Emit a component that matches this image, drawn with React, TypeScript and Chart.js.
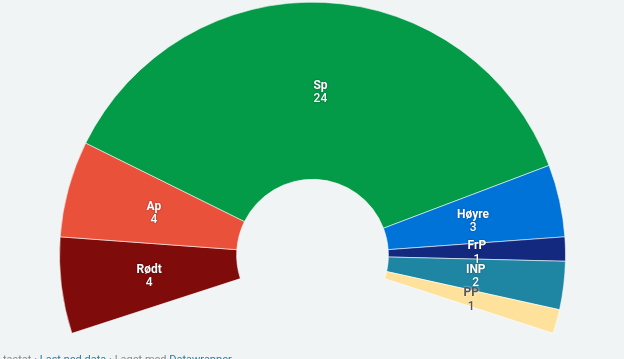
import React, { useEffect, useRef } from "react";
import { Chart, registerables } from "chart.js";

Chart.register(...registerables);

const parties = ["Rødt", "Ap", "Sp", "Høyre", "FrP", "INP", "PP"];
const seats = [4, 4, 24, 3, 1, 2, 1];
const colors = ["#800b0b", "#e9513a", "#039a48", "#0073d9", "#13297f", "#1e86a3", "#fee29b"];
const labelColors = ["#fff", "#fff", "#fff", "#fff", "#fff", "#fff", "#555"];

const labelPlugin = {
  id: "arcLabels",
  afterDatasetsDraw(chart: any) {
    const ctx = chart.ctx;
    const meta = chart.getDatasetMeta(0);
    meta.data.forEach((arc: any, i: number) => {
      const p = arc.tooltipPosition();
      ctx.save();
      ctx.textAlign = "center";
      ctx.textBaseline = "middle";
      const dark = labelColors[i] !== "#fff";
      if (dark) {
        ctx.shadowColor = "rgba(255,255,255,0.9)";
      } else {
        ctx.shadowColor = "rgba(0,0,0,0.45)";
      }
      ctx.shadowBlur = 2;
      ctx.fillStyle = labelColors[i];
      ctx.font = "bold 12px Roboto";
      ctx.fillText(parties[i], p.x, p.y - 5);
      ctx.font = "500 12px Roboto";
      ctx.fillText(String(seats[i]), p.x, p.y + 8.5);
      ctx.restore();
    });
  },
};

export default function App() {
  const ref = useRef<HTMLCanvasElement>(null);
  useEffect(() => {
    if (!ref.current) return;
    const chart = new Chart(ref.current, {
      type: "doughnut",
      data: {
        labels: parties,
        datasets: [
          {
            data: seats,
            backgroundColor: colors,
            borderColor: "rgba(255,255,255,0.55)",
            borderWidth: 1,
          },
        ],
      },
      options: {
        animation: false,
        responsive: false,
        maintainAspectRatio: false,
        rotation: -108,
        circumference: 216,
        cutout: "30%",
        layout: { padding: { left: 59, right: 58, top: 1.5, bottom: 25 } },
        plugins: {
          legend: { display: false },
          tooltip: { enabled: false },
        },
      },
      plugins: [labelPlugin],
    });
    return () => chart.destroy();
  }, []);
  return (
    <div
      style={{
        position: "fixed",
        left: 0,
        top: 0,
        width: 624,
        height: 359,
        background: "#f0f4f5",
        overflow: "hidden",
        fontFamily: "Roboto, sans-serif",
      }}
    >
      <canvas ref={ref} width={624} height={359} style={{ position: "absolute", left: 0, top: 0 }} />
      <div
        style={{
          position: "absolute",
          left: 3,
          top: 353,
          fontSize: 11,
          color: "#888",
          whiteSpace: "nowrap",
        }}
      >
        tastat · <span style={{ color: "#1d81a2" }}>Last ned data</span> · Laget med{" "}
        <span style={{ color: "#1d81a2" }}>Datawrapper</span>
      </div>
    </div>
  );
}
